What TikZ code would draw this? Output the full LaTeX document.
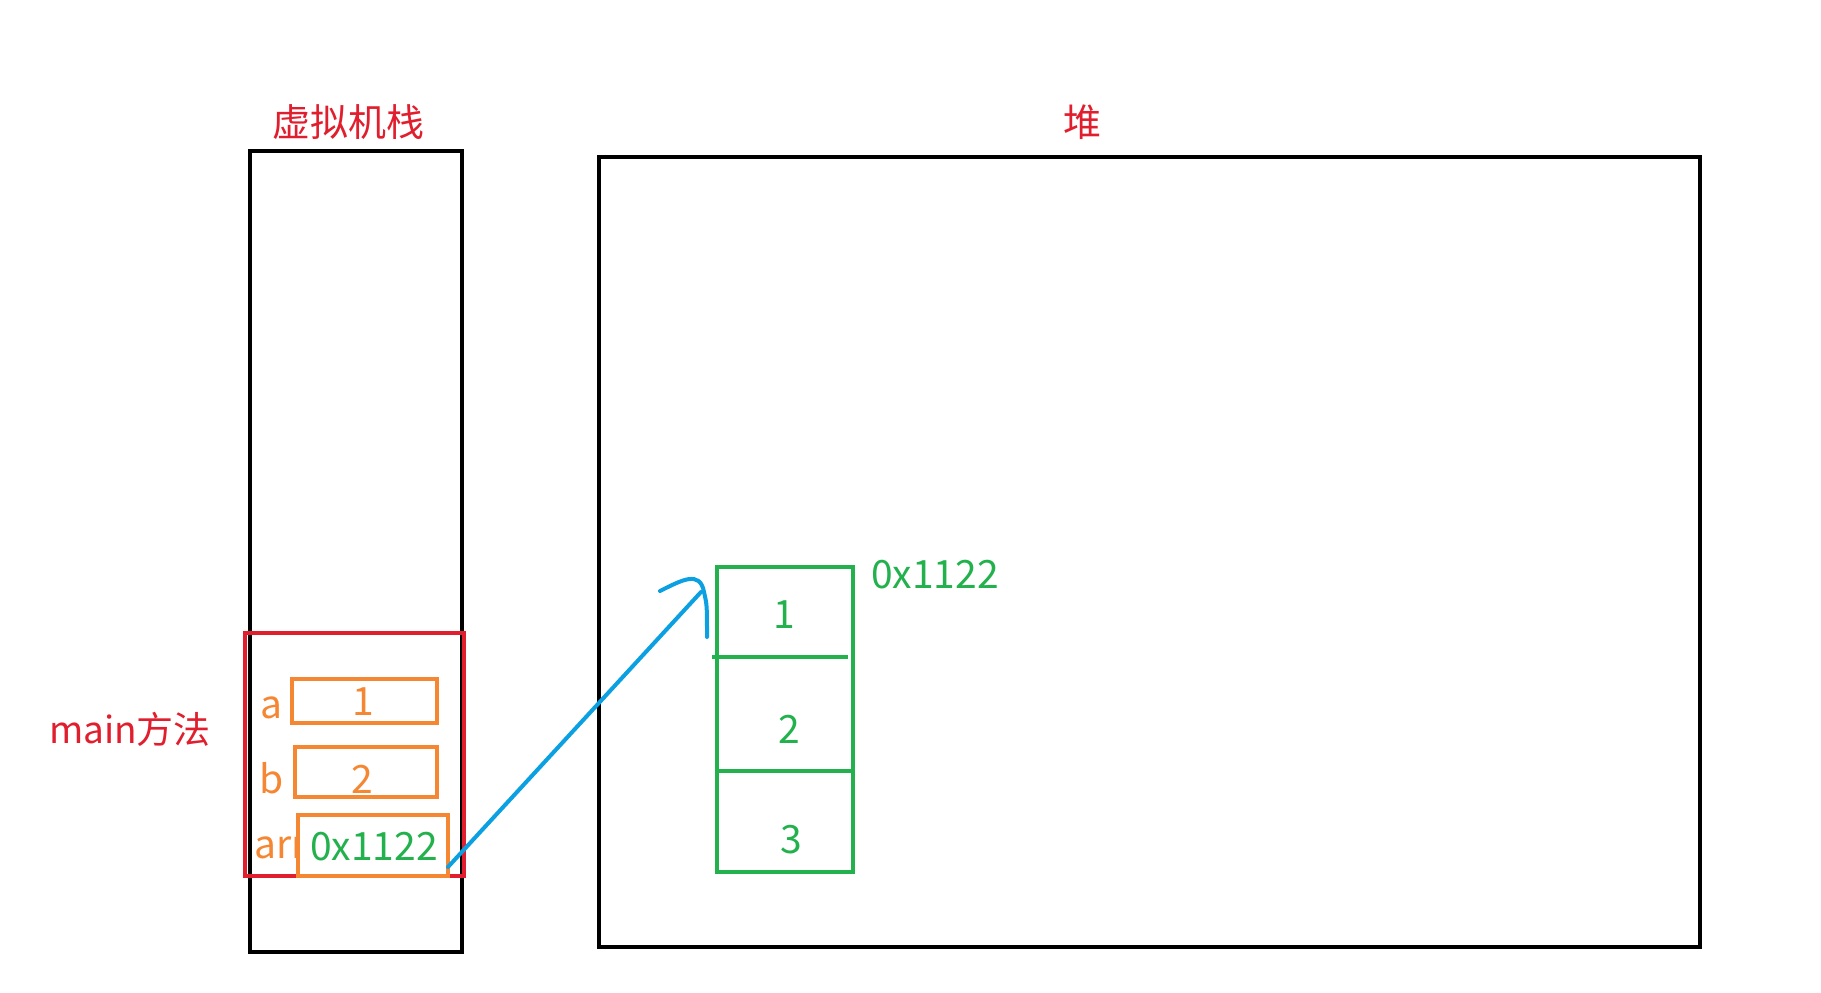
\documentclass[tikz,border=0pt]{standalone}
\usepackage{fontspec}
\setmainfont{Noto Sans CJK SC}
\begin{document}
\begin{tikzpicture}[x=1pt,y=-1pt,
  box/.style={draw, line width=4pt, rectangle, inner sep=0pt, outer sep=0pt, anchor=north west},
  blk/.style={box, draw=black},
  redc/.style={box, draw=myred},
  org/.style={box, draw=myorange, fill=white},
  grn/.style={box, draw=mygreen},
  big/.style={font=\fontsize{39}{42}\selectfont},
  ttl/.style={font=\fontsize{38}{42}\selectfont, text=myred},
]
\definecolor{myred}{RGB}{225,30,45}
\definecolor{myorange}{RGB}{245,135,50}
\definecolor{mygreen}{RGB}{34,177,76}
\definecolor{myblue}{RGB}{10,160,225}
\useasboundingbox (0,0) rectangle (1821,993);
\fill[white] (0,0) rectangle (1821,993);

% titles
\node[ttl] (tstack) at (348,122) {虚拟机栈};
\node[ttl] (theap) at (1082,122) {堆};

% stack and heap
\node[blk, minimum width=212pt, minimum height=801pt] (stack) at (250,151) {};
\node[blk, minimum width=1101pt, minimum height=790pt] (heap) at (599,157) {};

% main frame
\node[redc, minimum width=219pt, minimum height=243pt] (frame) at (245,633) {};
\node[ttl, font=\fontsize{37}{40}\selectfont] (tmain) at (130,729) {main方法};

% labels
\node[big, text=myorange, anchor=base] (la) at (271,718) {a};
\node[big, text=myorange, anchor=base] (lb) at (272,793) {b};
\node[big, text=myorange, anchor=base west, inner sep=0pt] (larr) at (254,858) {arr};

% variable boxes
\node[org, minimum width=145pt, minimum height=44pt] (va) at (292,679) {};
\node[org, minimum width=142pt, minimum height=50pt] (vb) at (295,747) {};
\node[org, minimum width=150pt, minimum height=61pt] (varr) at (298,815) {};
\node[big, text=myorange, anchor=base] (na) at (363,715) {1};
\node[big, text=myorange, anchor=base] (nb) at (362,793) {2};
\node[big, text=mygreen, anchor=base] (narr) at (374,860) {0x1122};

% array
\node[grn, minimum width=136pt, minimum height=305pt] (array) at (717,567) {};
\draw[mygreen, line width=4pt] (712,657) coordinate (d1a) -- (848,657) coordinate (d1b);
\draw[mygreen, line width=4pt] (717,771) coordinate (d2a) -- (853,771) coordinate (d2b);
\node[big, text=mygreen, anchor=base] (e1) at (784,628) {1};
\node[big, text=mygreen, anchor=base] (e2) at (789,743) {2};
\node[big, text=mygreen, anchor=base] (e3) at (791,853) {3};
\node[big, text=mygreen, anchor=base west, inner sep=0pt] (addr) at (871,588) {0x1122};

% arrow
\coordinate (tip) at (701,592);
\draw[myblue, line width=4pt, line cap=round] ([yshift=9pt]varr.south east) -- (tip);
\draw[myblue, line width=4pt, line cap=round] (660,591) .. controls (682,580) and (700,570) .. (704,592) .. controls (707,605) .. (707,637);
\end{tikzpicture}
\end{document}
